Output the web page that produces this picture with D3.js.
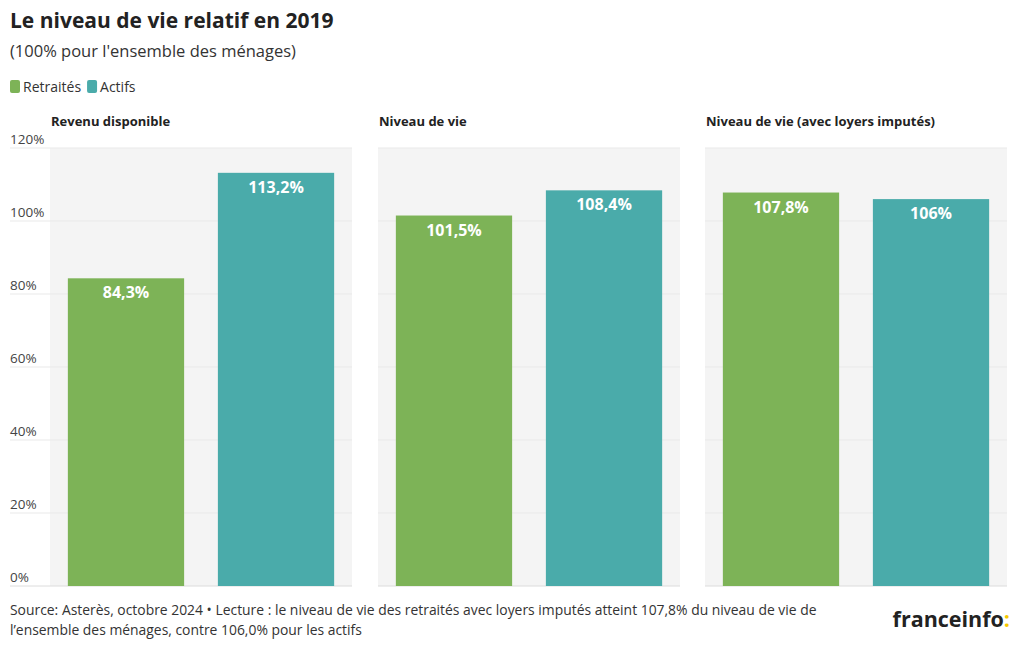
<!DOCTYPE html>
<html><head><meta charset="utf-8">
<script src="https://cdn.jsdelivr.net/npm/d3@7"></script>
<style>
body{margin:0;background:#fff;}
svg{font-family:"Open Sans",Lato,sans-serif;display:block;}
</style></head>
<body><svg id="c" width="1020" height="650"></svg>
<script>
const panels = ["Revenu disponible", "Niveau de vie", "Niveau de vie (avec loyers imputés)"];
const seriesNames = ["Retraités", "Actifs"];
const retraites = [84.3, 101.5, 107.8];
const actifs = [113.2, 108.4, 106.0];
const valueLabels = [["84,3%", "113,2%"], ["101,5%", "108,4%"], ["107,8%", "106%"]];
const yTicks = [0, 20, 40, 60, 80, 100, 120];
const colors = ["#7db357", "#4aabaa"];

(function(){
const svg = d3.select("#c");
const plotTop = 148, plotBottom = 586;
const panelX = [50, 378, 705], panelW = 302;

svg.append("text").attr("x", 10).attr("y", 28).attr("font-size", 21).attr("font-weight", 700)
  .attr("fill", "#222").text("Le niveau de vie relatif en 2019");
svg.append("text").attr("x", 10).attr("y", 57).attr("font-size", 16.5).attr("fill", "#333")
  .text("(100% pour l'ensemble des ménages)");

// legend
const lg = svg.append("g").attr("transform", "translate(10,80)");
let lx = 0;
seriesNames.forEach((n, i) => {
  lg.append("rect").attr("x", lx).attr("y", 0).attr("width", 10).attr("height", 13).attr("rx", 2).attr("fill", colors[i]);
  const t = lg.append("text").attr("x", lx + 13).attr("y", 11.5).attr("font-size", 14).attr("fill", "#333").text(n);
  lx += 13 + t.node().getComputedTextLength() + 6;
});

const y = d3.scaleLinear().domain([0, 120]).range([plotBottom, plotTop]);

panels.forEach((p, pi) => {
  const g = svg.append("g").attr("transform", `translate(${panelX[pi]},0)`);
  g.append("rect").attr("x", 0).attr("y", plotTop).attr("width", panelW).attr("height", plotBottom - plotTop).attr("fill", "#f4f4f4");
  const gx0 = pi === 0 ? -40 : 0;
  g.selectAll("line.grid").data(yTicks).join("line")
    .attr("x1", gx0).attr("x2", panelW).attr("y1", d => y(d)).attr("y2", d => y(d))
    .attr("stroke", d => d === 0 ? "#dcdcdc" : "#e9e9e9").attr("stroke-width", 1);
  g.append("text").attr("x", 1).attr("y", 126).attr("font-size", 13).attr("font-weight", 700)
    .attr("fill", "#222").text(p);
  const x = d3.scaleBand().domain(seriesNames).range([0, panelW]).paddingInner(0.225).paddingOuter(0.119);
  const vals = [retraites[pi], actifs[pi]];
  seriesNames.forEach((s, si) => {
    g.append("rect").attr("x", x(s)).attr("width", x.bandwidth())
      .attr("y", y(vals[si])).attr("height", y(0) - y(vals[si])).attr("fill", colors[si]);
    g.append("text").attr("x", x(s) + x.bandwidth() / 2).attr("y", y(vals[si]) + 20)
      .attr("text-anchor", "middle").attr("font-size", 16).attr("font-weight", 700)
      .attr("fill", "#fff").text(valueLabels[pi][si]);
  });
});

// y axis labels
const ya = svg.append("g").attr("transform", "translate(10,0)");
ya.selectAll("text").data(yTicks).join("text")
  .attr("x", 0).attr("y", d => y(d) - 4).attr("font-size", 13.5).attr("fill", "#444")
  .text(d => d + "%");

svg.append("text").attr("x", 10).attr("y", 615).attr("font-size", 13.9).attr("fill", "#333")
  .text("Source: Asterès, octobre 2024 • Lecture : le niveau de vie des retraités avec loyers imputés atteint 107,8% du niveau de vie de");
svg.append("text").attr("x", 10).attr("y", 635).attr("font-size", 13.9).attr("fill", "#333")
  .text("l’ensemble des ménages, contre 106,0% pour les actifs");

const logo = svg.append("text").attr("x", 1010).attr("y", 627).attr("text-anchor", "end")
  .attr("font-size", 21.5).attr("font-weight", 700).attr("fill", "#222");
logo.append("tspan").text("franceinfo");
logo.append("tspan").attr("fill", "#f5c900").text(":");
})();
</script></body></html>
